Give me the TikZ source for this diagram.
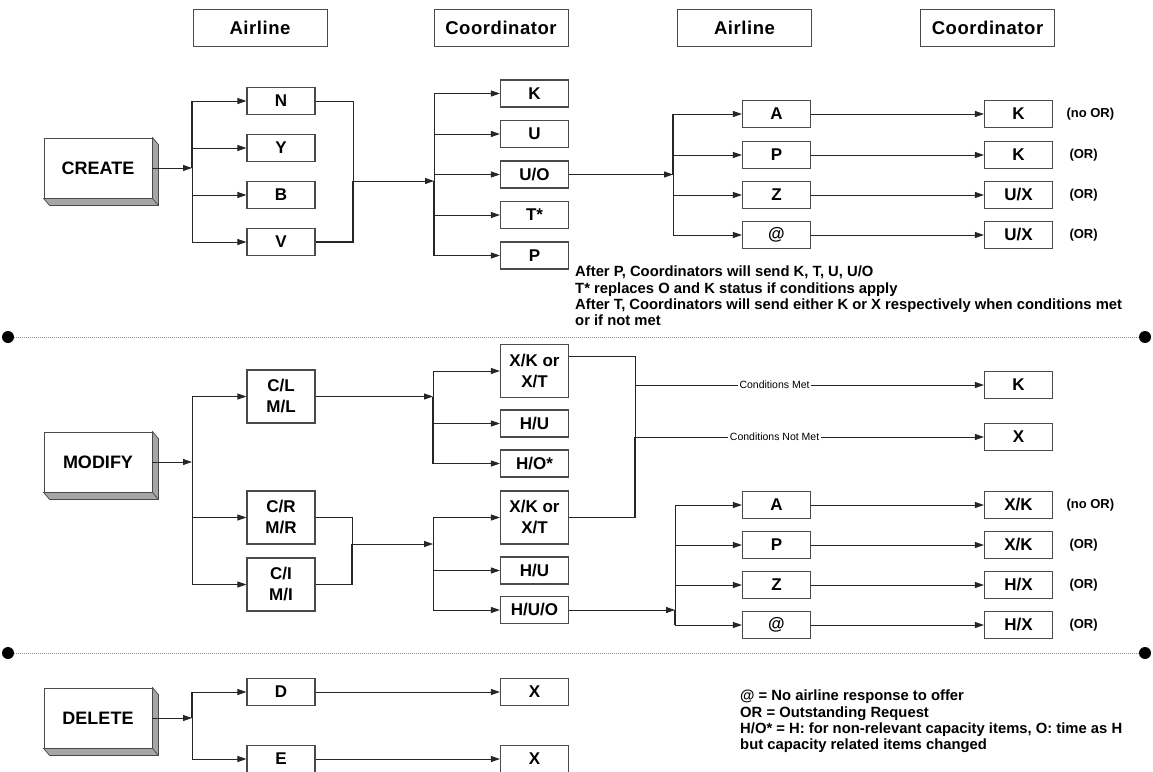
\documentclass[tikz,border=0pt]{standalone}
\usepackage{fontspec}
\setmainfont{Liberation Sans}
\usetikzlibrary{arrows.meta,positioning}
\definecolor{EdgeGrey}{HTML}{4A4A4A}
\definecolor{SideGrey}{HTML}{A6A6A6}
\definecolor{DotGrey}{HTML}{8F8F8F}
\newcommand{\lblfont}[1]{\fontsize{#1}{#1}\selectfont\bfseries}
% grey side faces of the action blocks
\newcommand{\slab}[1]{%
  \filldraw[fill=SideGrey, draw=EdgeGrey, line width=0.7pt]
    (#1.north east) -- ++(6,7) -- ([shift={(6,7)}]#1.south east)
    -- ([shift={(6,7)}]#1.south west) -- (#1.south west)
    -- (#1.south east) -- cycle;
  \draw[EdgeGrey, line width=0.7pt] (#1.south east) -- ++(6,7);}
\tikzset{
  hdr/.style     = {draw=EdgeGrey, line width=0.9pt, minimum width=134pt,
                    minimum height=37pt,
                    font=\lblfont{18.5}\addfontfeatures{LetterSpace=3}},
  sbox/.style    = {draw=EdgeGrey, fill=white, line width=1.1pt, minimum width=68pt,
                    minimum height=27pt, inner sep=1pt, font=\lblfont{17}},
  dbox/.style    = {sbox, minimum height=53pt, align=center,
                    font=\fontsize{17}{21}\selectfont\bfseries},
  act/.style     = {draw=EdgeGrey, fill=white, line width=0.9pt, minimum width=108pt,
                    minimum height=60pt, font=\lblfont{18}},
  wire/.style    = {draw=black!85, line width=0.9pt},
  heavy/.style   = {wire, line width=1.7pt},
  flow/.style    = {wire, -{Triangle[length=9pt,width=6pt]}},
  orlbl/.style   = {anchor=west, font=\lblfont{13}},
  condlbl/.style = {fill=white, inner sep=1.5pt, font=\fontsize{10.5}{10.5}\selectfont},
  remark/.style  = {anchor=north west, align=left, inner sep=0pt,
                    font=\fontsize{14.8}{16.3}\selectfont\bfseries},
  enddot/.style  = {circle, fill=black, inner sep=0pt, minimum size=12pt},
  sepline/.style = {draw=DotGrey, line width=0.8pt, dash pattern=on 1pt off 1pt},
}

\begin{document}
\begin{tikzpicture}[x=1pt, y=-1pt]
  \useasboundingbox (0,0) rectangle (1153,771);

  % column headers
  \node[hdr] (hAir1) at (260,27.5)   {Airline};
  \node[hdr] (hCo1)  at (501,27.5)   {Coordinator};
  \node[hdr] (hAir2) at (744.5,27.5) {Airline};
  \node[hdr] (hCo2)  at (987.5,27.5) {Coordinator};

  % ---------------- CREATE ----------------
  \node[act] (create) at (98,168) {CREATE};
  \slab{create}
  \node[act] at (create) {CREATE};

  \node[sbox] (cN) at (281,101) {N};
  \node[sbox] (cY) at (281,148) {Y};
  \node[sbox] (cB) at (281,195) {B};
  \node[sbox] (cV) at (281,242) {V};

  \coordinate (cbus) at (192,168);
  \draw[flow] (create) -- (cbus);
  \draw[heavy] (cbus) -- (cbus |- cN);
  \draw[wire] (cbus) -- (cbus |- cV);
  \foreach \n in {cN,cY,cB,cV}
    \draw[flow] (cbus |- \n) -- (\n);

  \coordinate (cmrg) at (353,181);
  \coordinate (kbus) at (434,181);
  \draw[wire]  (cN) -| (cmrg);
  \draw[heavy] (cV) -| (cmrg);
  \draw[flow]  (cmrg) -- (kbus);

  \node[sbox] (cK)  at (534.5,93.5)  {K};
  \node[sbox] (cU)  at (534.5,134)   {U};
  \node[sbox] (cUO) at (534.5,174.5) {U/O};
  \node[sbox] (cT)  at (534.5,215)   {T*};
  \node[sbox] (cP)  at (534.5,255.5) {P};

  \draw[wire]  (kbus) -- (kbus |- cK);
  \draw[heavy] (kbus) -- (kbus |- cP);
  \foreach \n in {cK,cU,cUO,cT,cP}
    \draw[flow] (kbus |- \n) -- (\n);

  \coordinate (abus) at (673,174.5);
  \draw[flow] (cUO) -- (abus);

  \node[sbox] (aA)  at (776.5,114) {A};
  \node[sbox] (aP)  at (776.5,155) {P};
  \node[sbox] (aZ)  at (776.5,195) {Z};
  \node[sbox] (aAt) at (776.5,235) {@};

  \node[sbox] (kK1)  at (1018.5,114) {K};
  \node[sbox] (kK2)  at (1018.5,155) {K};
  \node[sbox] (kUX1) at (1018.5,195) {U/X};
  \node[sbox] (kUX2) at (1018.5,235) {U/X};

  \draw[heavy] (abus) -- (abus |- aA);
  \draw[wire]  (abus) -- (abus |- aAt);
  \draw[flow] (abus |- aA)  -- (aA);
  \draw[flow] (abus |- aP)  -- (aP);
  \draw[flow] (abus |- aZ)  -- (aZ);
  \draw[flow] (abus |- aAt) -- (aAt);
  \draw[flow] (aA)  -- (kK1);
  \draw[flow] (aP)  -- (kK2);
  \draw[flow] (aZ)  -- (kUX1);
  \draw[flow] (aAt) -- (kUX2);

  \node[orlbl] (tK1)  at (1063,114) {(no OR)};
  \node[orlbl] (tK2)  at (1066,155) {(OR)};
  \node[orlbl] (tUX1) at (1066,195) {(OR)};
  \node[orlbl] (tUX2) at (1066,235) {(OR)};

  \node[remark] (note1) at (575,266)
    {After P, Coordinators will send K, T, U, U/O\\
     T* replaces O and K status if conditions apply\\
     After T, Coordinators will send either K or X respectively when conditions met\\
     or if not met};

  \node[enddot] (s1l) at (8,337) {};
  \node[enddot] (s1r) at (1145,337) {};
  \draw[sepline] (s1l) -- (s1r);

  % ---------------- MODIFY ----------------
  \node[act] (modify) at (98,462) {MODIFY};
  \slab{modify}
  \node[act] at (modify) {MODIFY};

  \node[dbox] (mCL) at (281,396.5) {C/L\\M/L};
  \node[dbox] (mCR) at (281,517.5) {C/R\\M/R};
  \node[dbox] (mCI) at (281,584.5) {C/I\\M/I};

  \coordinate (mbus) at (192,462);
  \draw[flow] (modify) -- (mbus);
  \draw[wire] (mbus |- mCL) -- (mbus |- mCI);
  \foreach \n in {mCL,mCR,mCI}
    \draw[flow] (mbus |- \n) -- (\n);

  \coordinate (xbus1) at (433,396.5);
  \draw[flow] (mCL) -- (xbus1);

  \node[dbox] (mXK1) at (534.5,371)   {X/K or\\X/T};
  \node[sbox] (mHU1) at (534.5,423.5) {H/U};
  \node[sbox] (mHO)  at (534.5,463.5) {H/O*};

  \draw[wire]  (xbus1) -- (xbus1 |- mXK1);
  \draw[heavy] (xbus1) -- (xbus1 |- mHO);
  \foreach \n in {mXK1,mHU1,mHO}
    \draw[flow] (xbus1 |- \n) -- (\n);

  \coordinate (mmrg)  at (352,544);
  \coordinate (xbus2) at (433,544);
  \draw[wire]  (mCR) -| (mmrg);
  \draw[heavy] (mCI) -| (mmrg);
  \draw[flow]  (mmrg) -- (xbus2);

  \node[dbox] (mXK2) at (534.5,517.5) {X/K or\\X/T};
  \node[sbox] (mHU2) at (534.5,570.5) {H/U};
  \node[sbox] (mHUO) at (534.5,610)   {H/U/O};

  \draw[wire] (xbus2 |- mXK2) -- (xbus2 |- mHUO);
  \foreach \n in {mXK2,mHU2,mHUO}
    \draw[flow] (xbus2 |- \n) -- (\n);

  % condition branch
  \coordinate (condM) at (635,385);
  \coordinate (condN) at (635,437);
  \draw[wire]  ([yshift=15pt]mXK1.east) -| (condM);
  \draw[wire]  (condM) -- (condN);
  \draw[heavy] (mXK2) -| (condN);

  \node[sbox] (mK) at (1018.5,385) {K};
  \node[sbox] (mX) at (1018.5,437) {X};
  \draw[flow] (condM) -- node[condlbl, pos=0.40] {Conditions Met} (mK);
  \draw[flow] (condN) -- node[condlbl, pos=0.40] {Conditions Not Met} (mX);

  \coordinate (abus2) at (675,610);
  \draw[flow] (mHUO) -- (abus2);

  \node[sbox] (mA)  at (776.5,505) {A};
  \node[sbox] (mP)  at (776.5,545) {P};
  \node[sbox] (mZ)  at (776.5,585) {Z};
  \node[sbox] (mAt) at (776.5,625) {@};

  \node[sbox] (mXKa) at (1018.5,505) {X/K};
  \node[sbox] (mXKb) at (1018.5,545) {X/K};
  \node[sbox] (mHXa) at (1018.5,585) {H/X};
  \node[sbox] (mHXb) at (1018.5,625) {H/X};

  \draw[wire]  (abus2) -- (abus2 |- mA);
  \draw[heavy] (abus2) -- (abus2 |- mAt);
  \draw[flow] (abus2 |- mA)  -- (mA);
  \draw[flow] (abus2 |- mP)  -- (mP);
  \draw[flow] (abus2 |- mZ)  -- (mZ);
  \draw[flow] (abus2 |- mAt) -- (mAt);
  \draw[flow] (mA)  -- (mXKa);
  \draw[flow] (mP)  -- (mXKb);
  \draw[flow] (mZ)  -- (mHXa);
  \draw[flow] (mAt) -- (mHXb);

  \node[orlbl] (tXKa) at (1063,505) {(no OR)};
  \node[orlbl] (tXKb) at (1066,545) {(OR)};
  \node[orlbl] (tHXa) at (1066,585) {(OR)};
  \node[orlbl] (tHXb) at (1066,625) {(OR)};

  \node[enddot] (s2l) at (8,653) {};
  \node[enddot] (s2r) at (1145,653) {};
  \draw[sepline] (s2l) -- (s2r);

  % ---------------- DELETE ----------------
  \node[act] (delete) at (98,718) {DELETE};
  \slab{delete}
  \node[act] at (delete) {DELETE};

  \node[sbox] (dD) at (281,692) {D};
  \node[sbox] (dE) at (281,759) {E};

  \coordinate (dbus) at (192,718);
  \draw[flow] (delete) -- (dbus);
  \draw[heavy] (dbus) -- (dbus |- dD);
  \draw[wire]  (dbus) -- (dbus |- dE);
  \draw[flow] (dbus |- dD) -- (dD);
  \draw[flow] (dbus |- dE) -- (dE);

  \node[sbox] (dX1) at (534.5,692) {X};
  \node[sbox] (dX2) at (534.5,759) {X};
  \draw[flow] (dD) -- (dX1);
  \draw[flow] (dE) -- (dX2);

  \node[remark] (note2) at (740,690)
    {@ = No airline response to offer\\
     OR = Outstanding Request\\
     H/O* = H: for non-relevant capacity items, O: time as H\\
     but capacity related items changed};

\end{tikzpicture}
\end{document}
